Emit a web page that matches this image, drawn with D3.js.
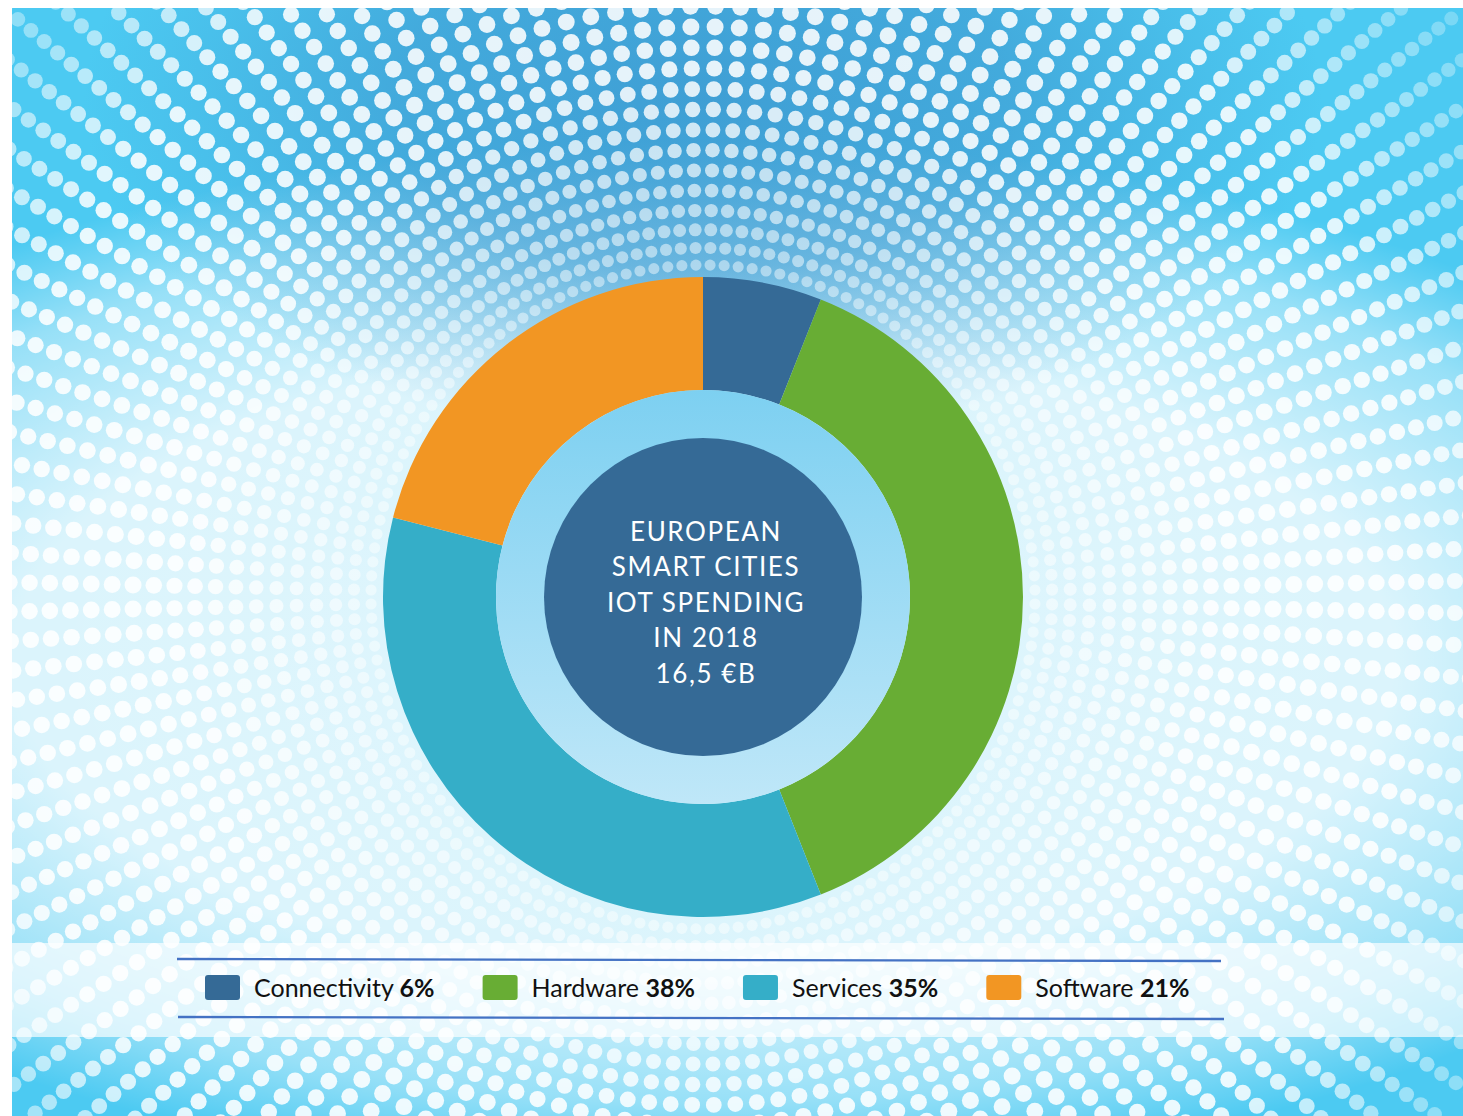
<!DOCTYPE html>
<html>
<head>
<meta charset="utf-8">
<script src="https://cdn.jsdelivr.net/npm/d3@7"></script>
<style>
  html, body { margin: 0; padding: 0; background: #ffffff; }
  svg { display: block; }
</style>
</head>
<body>
<svg id="chart" width="1463" height="1116"></svg>
<script>
// Spending breakdown (share of total, %)
const categories = ["Connectivity", "Hardware", "Services", "Software"];
const shares = [6, 38, 35, 21];
const sliceColors = ["#356a96", "#68ad34", "#35aec8", "#f29623"];
// Centre caption
const centerLines = ["EUROPEAN", "SMART CITIES", "IOT SPENDING", "IN 2018", "16,5 €B"];

const W = 1463, H = 1116;
const svg = d3.select("#chart");
const defs = svg.append("defs");

// Panel holding the artwork (white page margin at top/left)
const panel = { x: 12, y: 8, w: W - 12, h: H - 8 };
const cx = 703, cy = 597;
const outerR = 320, innerR = 207, coreR = 159;

defs.append("clipPath").attr("id", "panelClip")
  .append("rect").attr("x", panel.x).attr("y", panel.y).attr("width", panel.w).attr("height", panel.h);

// ---------- background gradients ----------
function radial(id, cxp, cyp, rx, ry, color, stops) {
  const g = defs.append("radialGradient").attr("id", id)
    .attr("gradientUnits", "userSpaceOnUse")
    .attr("cx", cxp).attr("cy", cyp).attr("r", rx)
    .attr("gradientTransform", `translate(${cxp},${cyp}) scale(1,${ry / rx}) translate(${-cxp},${-cyp})`);
  stops.forEach(([o, a]) => g.append("stop").attr("offset", o).attr("stop-color", color).attr("stop-opacity", a));
}
radial("halo", cx, 660, 1150, 520, "#ffffff", [[0, 0.82], [0.6, 0.8], [0.85, 0.42], [1, 0]]);
radial("topShade", cx, 100, 620, 340, "#3d97cf", [[0, 0.85], [0.5, 0.62], [0.8, 0.22], [1, 0]]);

const inner = defs.append("linearGradient").attr("id", "innerFill").attr("x1", 0).attr("y1", 0).attr("x2", 0).attr("y2", 1);
inner.append("stop").attr("offset", 0).attr("stop-color", "#7dd0f1");
inner.append("stop").attr("offset", 1).attr("stop-color", "#bfe7f8");

defs.append("filter").attr("id", "soft").append("feGaussianBlur").attr("stdDeviation", 0.7);

const bg = svg.append("g").attr("clip-path", "url(#panelClip)");
bg.append("rect").attr("x", panel.x).attr("y", panel.y).attr("width", panel.w).attr("height", panel.h).attr("fill", "#4ccaf2");
bg.append("rect").attr("x", panel.x).attr("y", panel.y).attr("width", panel.w).attr("height", panel.h).attr("fill", "url(#halo)");
bg.append("rect").attr("x", panel.x).attr("y", panel.y).attr("width", panel.w).attr("height", panel.h).attr("fill", "url(#topShade)");

// ---------- radial halftone dots ----------
const nRays = 148;
const ringStep = d3.scaleLinear().domain([330, 380, 600, 750, 950]).range([17, 20, 21, 19, 16]).clamp(true);
const dotSize = d3.scaleLinear().domain([330, 360, 570, 800, 950]).range([5.5, 6.4, 8.5, 7.9, 7]).clamp(true);
const dotAlpha = d3.scaleLinear().domain([330, 420, 520, 720, 860, 950]).range([0.45, 0.65, 0.87, 0.87, 0.45, 0.25]).clamp(true);

const dots = [];
for (let r = 332; r < 960; r += ringStep(r)) {
  for (let k = 0; k < nRays; k++) {
    const a = (k + 0.5) * 2 * Math.PI / nRays;
    const x = cx + r * Math.sin(a), y = cy - r * Math.cos(a);
    if (x > panel.x - 10 && x < W + 10 && y > panel.y - 10 && y < H + 10) dots.push({ x, y, r });
  }
}
bg.append("g").attr("filter", "url(#soft)")
  .selectAll("circle").data(dots).join("circle")
  .attr("cx", d => d.x).attr("cy", d => d.y)
  .attr("r", d => dotSize(d.r))
  .attr("fill", "#ffffff")
  .attr("fill-opacity", d => dotAlpha(d.r));

// ---------- donut ----------
const pie = d3.pie().sort(null).value(d => d.value);
const arc = d3.arc().innerRadius(innerR).outerRadius(outerR);
const data = categories.map((c, i) => ({ name: c, value: shares[i], color: sliceColors[i] }));

const donut = svg.append("g").attr("transform", `translate(${cx},${cy})`);
donut.selectAll("path").data(pie(data)).join("path")
  .attr("d", arc).attr("fill", d => d.data.color);
donut.append("circle").attr("r", innerR).attr("fill", "url(#innerFill)");
donut.append("circle").attr("r", coreR).attr("fill", "#356a96");

const caption = donut.append("text")
  .attr("text-anchor", "middle")
  .attr("fill", "#ffffff")
  .style("font-family", "Lato, 'Open Sans', sans-serif")
  .style("font-size", "26px")
  .style("letter-spacing", "1.6px");
centerLines.forEach((line, i) => {
  caption.append("tspan").attr("x", 3).attr("y", -56 + i * 35.4).text(line);
});

// ---------- legend band ----------
const band = { y: 943, h: 94 };
svg.append("rect").attr("x", panel.x).attr("y", band.y).attr("width", panel.w).attr("height", band.h)
  .attr("fill", "#ffffff").attr("fill-opacity", 0.68);

svg.append("line").attr("x1", 177).attr("y1", 959).attr("x2", 1221).attr("y2", 961)
  .attr("stroke", "#4472c4").attr("stroke-width", 2.4);
svg.append("line").attr("x1", 178).attr("y1", 1017).attr("x2", 1224).attr("y2", 1019)
  .attr("stroke", "#4472c4").attr("stroke-width", 2.4);

const legend = svg.append("g");
let lx = 205;
data.forEach(d => {
  const item = legend.append("g");
  item.append("rect").attr("x", lx).attr("y", 975).attr("width", 35).attr("height", 25).attr("rx", 3)
    .attr("fill", d.color);
  const t = item.append("text").attr("x", lx + 49).attr("y", 997)
    .attr("fill", "#111111")
    .style("font-family", "Lato, 'Open Sans', sans-serif")
    .style("font-size", "25px");
  t.append("tspan").text(d.name + " ");
  t.append("tspan").style("font-weight", "bold").text(d.value + "%");
  const bb = t.node().getBBox();
  lx = bb.x + bb.width + 48;
});
</script>
</body>
</html>
